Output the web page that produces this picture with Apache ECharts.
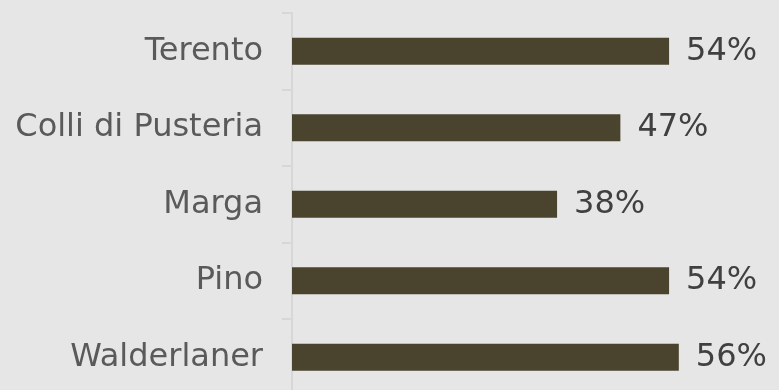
<!DOCTYPE html>
<html><head><meta charset="utf-8">
<script src="https://cdn.jsdelivr.net/npm/echarts@6/dist/echarts.min.js"></script>
<style>html,body{margin:0;padding:0;background:#e5e6e5}#c{width:779px;height:390px}</style>
</head><body><div id="c"></div>
<script>
const categories = ["Terento", "Colli di Pusteria", "Marga", "Pino", "Walderlaner"];
const values = [54.2, 47.2, 38.1, 54.2, 55.6];

const chart = echarts.init(document.getElementById('c'));
chart.setOption({
  backgroundColor: '#e5e6e5',
  animation: false,
  grid: {left: 292, width: 487, top: 13, height: 382.5, containLabel: false, outerBoundsMode: 'none'},
  xAxis: {type: 'value', min: 0, max: 70, show: false, splitLine: {show: false}},
  yAxis: {
    type: 'category', data: categories, inverse: true,
    axisLine: {show: true, lineStyle: {color: '#d6d7d6', width: 2}},
    axisTick: {show: true, length: 10, lineStyle: {color: '#d6d7d6', width: 2}},
    axisLabel: {margin: 29, fontFamily: 'DejaVu Sans', fontSize: 32, color: '#5a5a5a'}
  },
  series: [{
    type: 'bar', data: values, barWidth: 27,
    itemStyle: {color: '#4a442e'},
    label: {show: true, position: 'right', distance: 17, fontFamily: 'DejaVu Sans', fontSize: 32, color: '#404040',
      formatter: p => Math.round(p.value) + '%'}
  }]
});
</script></body></html>
